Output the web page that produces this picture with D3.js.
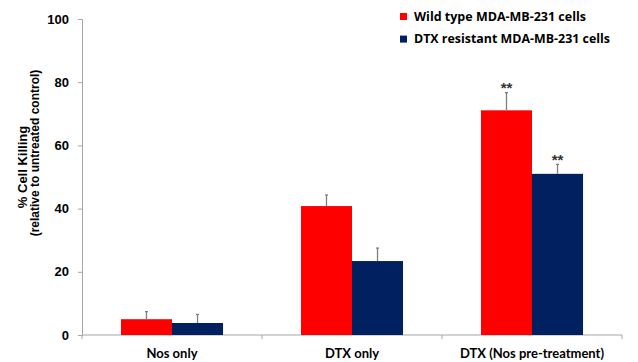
<!DOCTYPE html>
<html>
<head>
<meta charset="utf-8">
<script src="https://cdn.jsdelivr.net/npm/d3@7/dist/d3.min.js"></script>
<style>
  html, body { margin: 0; padding: 0; background: #fff; }
  svg { display: block; font-family: Lato, "Open Sans", "Liberation Sans", sans-serif; }
</style>
</head>
<body>
<svg id="chart" width="638" height="362"></svg>
<script>
// Treatment groups along the x axis
const categories = ["Nos only", "DTX only", "DTX (Nos pre-treatment)"];
// Series names and colours
const seriesNames = ["Wild type MDA-MB-231 cells", "DTX resistant MDA-MB-231 cells"];
const seriesColors = ["#ff0000", "#002060"];
// Mean % cell killing per group
const wildType = [5.0, 40.8, 71.1];
const resistant = [3.8, 23.4, 51.0];
// Upper error (SD) per group
const wildTypeErr = [2.4, 3.5, 5.6];
const resistantErr = [2.7, 4.1, 3.0];
// Significance marks
const wildTypeSig = ["", "", "**"];
const resistantSig = ["", "", "**"];
// Y-axis ticks
const yTicks = [0, 20, 40, 60, 80, 100];

const values = [wildType, resistant];
const errors = [wildTypeErr, resistantErr];
const sigs = [wildTypeSig, resistantSig];

const svg = d3.select("#chart");
const margin = { left: 82, right: 16, top: 19, bottom: 27 };
const W = 638, H = 362;
const arial = '"Liberation Sans", Arial, sans-serif';

const x = d3.scaleBand().domain(categories)
  .range([margin.left, W - margin.right])
  .paddingInner(0.433).paddingOuter(0.2165);
const xs = d3.scaleBand().domain(d3.range(seriesNames.length))
  .range([0, x.bandwidth()]);
const y = d3.scaleLinear().domain([0, 100]).range([H - margin.bottom, margin.top]);

const axisColor = "#a6a6a6";

// Y axis
const yAxis = svg.append("g")
  .attr("transform", `translate(${margin.left},0)`)
  .call(d3.axisLeft(y).tickValues(yTicks).tickSize(4).tickPadding(9));
yAxis.select(".domain").attr("stroke", axisColor);
yAxis.selectAll(".tick line").attr("stroke", axisColor);
yAxis.selectAll(".tick text")
  .attr("fill", "#000").style("font-size", "13px").style("font-weight", "bold")
  .style("font-family", arial);

// X axis: ticks at group boundaries
const step = x.step();
const bounds = categories.map((c, i) => margin.left + i * step).concat([W - margin.right]);
const xAxisG = svg.append("g");
xAxisG.append("line")
  .attr("x1", margin.left).attr("x2", W - margin.right)
  .attr("y1", y(0)).attr("y2", y(0))
  .attr("stroke", axisColor);
xAxisG.selectAll("line.tk").data(bounds).join("line").attr("class", "tk")
  .attr("x1", d => d).attr("x2", d => d)
  .attr("y1", y(0)).attr("y2", y(0) + 4)
  .attr("stroke", axisColor);
xAxisG.selectAll("text").data(categories).join("text")
  .attr("x", d => x(d) + x.bandwidth() / 2)
  .attr("y", H - 4)
  .attr("text-anchor", "middle")
  .style("font-size", "13px").style("font-weight", "bold")
  .text(d => d);

// Bars, error bars and significance marks
seriesNames.forEach((name, s) => {
  const g = svg.append("g");
  const cx = c => x(c) + xs(s) + xs.bandwidth() / 2;
  g.selectAll("rect").data(categories).join("rect")
    .attr("x", c => x(c) + xs(s))
    .attr("y", (c, i) => y(values[s][i]))
    .attr("width", xs.bandwidth())
    .attr("height", (c, i) => y(0) - y(values[s][i]))
    .attr("fill", seriesColors[s]);
  g.selectAll("line.err").data(categories).join("line").attr("class", "err")
    .attr("x1", cx).attr("x2", cx)
    .attr("y1", (c, i) => y(values[s][i]))
    .attr("y2", (c, i) => y(values[s][i] + errors[s][i]))
    .attr("stroke", "#7f7f7f").attr("stroke-width", 1.3);
  g.selectAll("line.cap").data(categories).join("line").attr("class", "cap")
    .attr("x1", c => cx(c) - 1.5).attr("x2", c => cx(c) + 1.5)
    .attr("y1", (c, i) => y(values[s][i] + errors[s][i]))
    .attr("y2", (c, i) => y(values[s][i] + errors[s][i]))
    .attr("stroke", "#7f7f7f").attr("stroke-width", 1.3);
  g.selectAll("text.sig").data(categories).join("text").attr("class", "sig")
    .attr("x", cx)
    .attr("y", (c, i) => y(values[s][i] + errors[s][i]) + 0.5)
    .attr("text-anchor", "middle")
    .style("font-family", arial)
    .style("font-size", "15px").style("font-weight", "bold").attr("fill", "#333")
    .text((c, i) => sigs[s][i]);
});

// Y-axis title (two lines)
svg.append("text")
  .attr("transform", "translate(27,167) rotate(-90)")
  .attr("text-anchor", "middle")
  .style("font-family", arial)
  .style("font-size", "13px").style("font-weight", "bold")
  .text("% Cell Killing");
svg.append("text")
  .attr("transform", "translate(39,153) rotate(-90)")
  .attr("text-anchor", "middle")
  .style("font-family", arial)
  .style("font-size", "12px").style("font-weight", "bold")
  .text("(relative to untreated control)");

// Legend
const legendWidths = [172, 196];
const legend = svg.append("g").attr("transform", "translate(400,0)");
seriesNames.forEach((name, i) => {
  const row = legend.append("g").attr("transform", `translate(0,${i * 22.6})`);
  row.append("rect").attr("x", 0).attr("y", 13).attr("width", 7).attr("height", 7)
    .attr("fill", seriesColors[i]);
  row.append("text").attr("x", 14).attr("y", 20.7)
    .attr("textLength", legendWidths[i]).attr("lengthAdjust", "spacingAndGlyphs")
    .style("font-family", '"Open Sans", sans-serif')
    .style("font-size", "12px").style("font-weight", "bold").text(name);
});
</script>
</body>
</html>
